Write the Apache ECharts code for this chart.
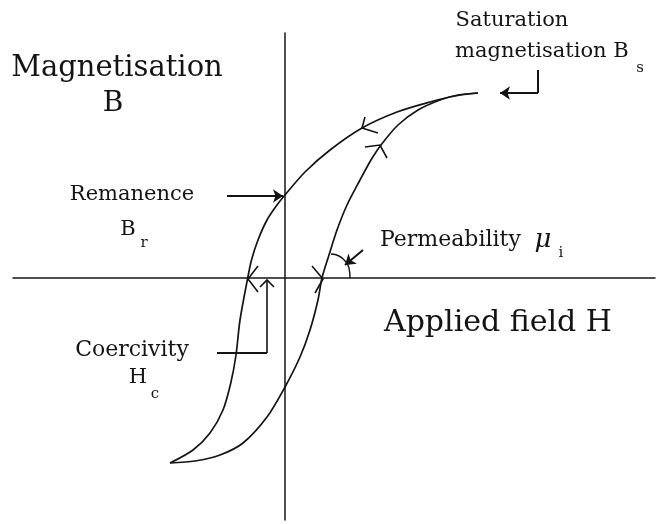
<!DOCTYPE html>
<html>
<head>
<meta charset="utf-8">
<script src="https://cdn.jsdelivr.net/npm/echarts@6/dist/echarts.min.js"></script>
<style>
  html, body { margin: 0; padding: 0; background: #fff; }
  #chart { width: 657px; height: 524px; }
</style>
</head>
<body>
<div id="chart"></div>
<script>
// Hysteresis loop, field H against magnetisation B (arbitrary units, origin at the axes crossing)
const descending = [
  [19.3, 18.5], [17.0, 18.2], [14.5, 17.6], [11.2, 16.6], [7.7, 15.0],
  [4.5, 12.8], [2.0, 10.6], [0, 8.3], [-0.8, 7.3], [-1.8, 5.8],
  [-2.7, 3.8], [-3.35, 1.8], [-3.75, -0.1], [-4.5, -4.2], [-4.9, -7.7],
  [-5.4, -10.4], [-6.2, -13.2], [-7.5, -15.5], [-9.2, -17.2], [-11.5, -18.5]
]
const ascending = [
  [-11.5, -18.5], [-9.0, -18.3], [-6.5, -17.7], [-4.2, -16.5], [-1.8, -13.9],
  [0, -10.9], [1.5, -7.9], [2.5, -5.2], [3.3, -2.2], [3.7, 0],
  [4.4, 2.3], [5.2, 4.8], [6.2, 7.3], [7.5, 9.8], [8.6, 11.8],
  [9.6, 13.3], [11.3, 15.3], [13.3, 16.8], [15.5, 17.8], [17.3, 18.3],
  [19.3, 18.5]
]

// leader lines of the labels
const plainSegments = [
  [[25.3, 20.8], [25.3, 18.5]],
  [[-6.8, -7.5], [-1.8, -7.5]]
]
const arrowSegments = [
  [[-5.8, 8.2], [-0.2, 8.2]],
  [[25.3, 18.5], [21.5, 18.5]],
  [[7.8, 2.8], [6.0, 1.3]]
]
// open arrowheads drawn along the loop and the leaders
const chevrons = [
  [[8.0, 16.1], [7.7, 15.0], [9.3, 14.5]],
  [[8.0, 13.1], [9.5, 13.3], [10.2, 12.0]],
  [[-2.7, 1.2], [-3.7, -0.1], [-2.7, -1.4]],
  [[2.7, 1.2], [3.8, -0.1], [3.0, -1.5]],
  [[-1.8, -7.5], [-1.8, -0.2]],
  [[-2.5, -0.9], [-1.8, -0.2], [-1.1, -0.9]]
]
const permeabilityArc = [[6.5, 0], [6.4, 1.0], [6.0, 1.7], [5.4, 2.2], [4.6, 2.4]]

const ink = '#141414'
const serif = '"DejaVu Serif", "Liberation Serif", serif'

const label = (text, x, y, size, extra = {}) => ({
  type: 'text',
  x,
  y,
  style: {
    text,
    font: `${extra.style || ''} ${size}px ${serif}`,
    fill: ink,
    align: extra.align || 'center',
    verticalAlign: 'middle'
  }
})

const chart = echarts.init(document.getElementById('chart'))
chart.setOption({
  backgroundColor: '#fff',
  animation: false,
  grid: { left: 13, right: 2, top: 33, bottom: 4 },
  xAxis: {
    type: 'value',
    min: -27.2,
    max: 37.0,
    axisLine: { onZero: true, lineStyle: { color: ink, width: 1.5 } },
    axisTick: { show: false },
    axisLabel: { show: false },
    splitLine: { show: false }
  },
  yAxis: {
    type: 'value',
    min: -24.2,
    max: 24.5,
    axisLine: { onZero: true, lineStyle: { color: ink, width: 1.5 } },
    axisTick: { show: false },
    axisLabel: { show: false },
    splitLine: { show: false }
  },
  series: [
    {
      type: 'line',
      data: descending,
      smooth: 0.3,
      showSymbol: false,
      lineStyle: { color: ink, width: 1.7 }
    },
    {
      type: 'line',
      data: ascending,
      smooth: 0.3,
      showSymbol: false,
      lineStyle: { color: ink, width: 1.7 }
    },
    {
      type: 'line',
      data: permeabilityArc,
      smooth: 0.5,
      showSymbol: false,
      lineStyle: { color: ink, width: 1.4 }
    },
    {
      type: 'lines',
      coordinateSystem: 'cartesian2d',
      polyline: true,
      data: chevrons.map(c => ({ coords: c })),
      lineStyle: { color: ink, width: 1.6, opacity: 1 }
    },
    {
      type: 'lines',
      coordinateSystem: 'cartesian2d',
      data: plainSegments.map(c => ({ coords: c })),
      lineStyle: { color: ink, width: 2, opacity: 1 }
    },
    {
      type: 'lines',
      coordinateSystem: 'cartesian2d',
      data: arrowSegments.map(c => ({ coords: c })),
      symbol: ['none', 'arrow'],
      symbolSize: 10,
      itemStyle: { color: ink },
      lineStyle: { color: ink, width: 2, opacity: 1 }
    }
  ],
  graphic: [
    label('Magnetisation', 117, 68, 29),
    label('B', 113, 104, 28),
    label('Saturation', 512, 21, 21),
    label('magnetisation B', 455, 52, 21, { align: 'left' }),
    label('s', 640, 68, 15),
    label('Remanence', 132, 195, 21),
    label('B', 128, 230, 21),
    label('r', 144, 243, 15),
    label('Permeability', 380, 240, 22, { align: 'left' }),
    label('μ', 543, 240, 26, { style: 'italic' }),
    label('i', 561, 253, 15),
    label('Applied field H', 498, 323, 30),
    label('Coercivity', 132, 350, 22),
    label('H', 138, 378, 21),
    label('c', 155, 394, 15)
  ]
})
</script>
</body>
</html>
